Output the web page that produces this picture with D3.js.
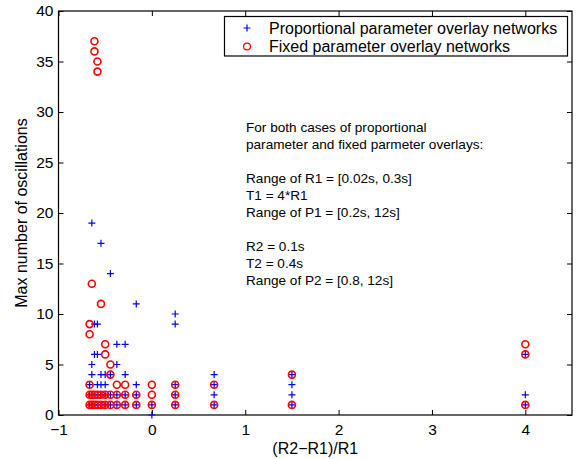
<!DOCTYPE html>
<html>
<head>
<meta charset="utf-8">
<script src="https://cdn.jsdelivr.net/npm/d3@7"></script>
<style>
  body { margin: 0; background: #fff; }
  svg { font-family: "Liberation Sans", Arial, Helvetica, sans-serif; }
</style>
</head>
<body>
<svg></svg>
<script>
const width = 581, height = 459;

// x values are (R2-R1)/R1, y values are max number of oscillations
const proportional = [
  [0, 0],
  [-0.667, 1], [-0.643, 1], [-0.615, 1], [-0.583, 1], [-0.545, 1], [-0.5, 1], [-0.444, 1],
  [-0.375, 1], [-0.286, 1], [-0.167, 1], [0, 1], [0.25, 1], [0.667, 1], [1.5, 1], [4, 1],
  [-0.667, 2], [-0.643, 2], [-0.615, 2], [-0.583, 2], [-0.545, 2], [-0.5, 2], [-0.444, 2],
  [-0.375, 2], [-0.286, 2], [-0.167, 2], [0.25, 2], [0.667, 2], [1.5, 2], [4, 2],
  [-0.667, 3], [-0.583, 3], [-0.545, 3], [-0.5, 3], [-0.167, 3], [0.25, 3], [0.667, 3], [1.5, 3],
  [-0.643, 4], [-0.545, 4], [-0.5, 4], [-0.444, 4], [-0.286, 4], [0.667, 4], [1.5, 4],
  [-0.643, 5], [-0.375, 5],
  [-0.615, 6], [-0.583, 6], [4, 6],
  [-0.375, 7], [-0.286, 7],
  [-0.615, 9], [-0.583, 9], [0.25, 9],
  [0.25, 10],
  [-0.167, 11],
  [-0.444, 14],
  [-0.545, 17],
  [-0.643, 19]
];

const fixed = [
  [-0.667, 1], [-0.643, 1], [-0.615, 1], [-0.583, 1], [-0.545, 1], [-0.5, 1], [-0.444, 1],
  [-0.375, 1], [-0.286, 1], [-0.167, 1], [0, 1], [0.25, 1], [0.667, 1], [1.5, 1], [4, 1],
  [-0.667, 2], [-0.643, 2], [-0.615, 2], [-0.583, 2], [-0.545, 2], [-0.5, 2], [-0.444, 2],
  [-0.375, 2], [-0.286, 2], [-0.167, 2], [0, 2], [0.25, 2],
  [-0.667, 3], [-0.375, 3], [-0.286, 3], [0, 3], [0.25, 3], [0.667, 3],
  [-0.444, 4], [1.5, 4],
  [-0.444, 5],
  [-0.5, 6], [4, 6],
  [-0.5, 7], [4, 7],
  [-0.667, 8],
  [-0.667, 9],
  [-0.545, 11],
  [-0.643, 13],
  [-0.583, 34], [-0.583, 35],
  [-0.615, 36], [-0.615, 37]
];

const xTicks = [-1, 0, 1, 2, 3, 4];
const yTicks = [0, 5, 10, 15, 20, 25, 30, 35, 40];
const legendLabels = ["Proportional parameter overlay networks", "Fixed parameter overlay networks"];
const noteLines = [
  "For both cases of proportional",
  "parameter and fixed parmeter overlays:",
  "",
  "Range of R1 = [0.02s, 0.3s]",
  "T1 = 4*R1",
  "Range of P1 = [0.2s, 12s]",
  "",
  "R2 = 0.1s",
  "T2 = 0.4s",
  "Range of P2 = [0.8, 12s]"
];

const svg = d3.select("svg").attr("width", width).attr("height", height);

const plotLeft = 58.5, plotRight = 572, plotTop = 11, plotBottom = 415;

const x = d3.scaleLinear().domain([-1, 4.5]).range([plotLeft, plotRight]);
const y = d3.scaleLinear().domain([0, 40]).range([plotBottom, plotTop]);
const fmt = d3.format("d");

// axes, ticks pointing inward like matlab
svg.append("g")
  .attr("transform", `translate(0,${plotBottom})`)
  .call(d3.axisBottom(x).tickValues(xTicks).tickFormat(fmt).tickSizeInner(-5).tickSizeOuter(0).tickPadding(9));
svg.append("g")
  .attr("transform", `translate(${plotLeft},0)`)
  .call(d3.axisLeft(y).tickValues(yTicks).tickFormat(fmt).tickSizeInner(-5).tickSizeOuter(0).tickPadding(5));
svg.append("g")
  .attr("transform", `translate(0,${plotTop})`)
  .call(d3.axisTop(x).tickValues(xTicks).tickSizeInner(-5).tickSizeOuter(0).tickFormat(""));
svg.append("g")
  .attr("transform", `translate(${plotRight},0)`)
  .call(d3.axisRight(y).tickValues(yTicks).tickSizeInner(-5).tickSizeOuter(0).tickFormat(""));

svg.selectAll(".domain").remove();
svg.selectAll(".tick line").attr("stroke", "#000");
svg.selectAll(".tick text").attr("font-size", 15.5).attr("fill", "#000")
  .attr("font-family", "Liberation Sans, Arial, sans-serif");

svg.append("rect")
  .attr("x", plotLeft).attr("y", plotTop)
  .attr("width", plotRight - plotLeft).attr("height", plotBottom - plotTop)
  .attr("fill", "none").attr("stroke", "#000").attr("stroke-width", 1.2);

// axis titles
svg.append("text")
  .attr("x", (plotLeft + plotRight) / 2).attr("y", 454)
  .attr("text-anchor", "middle").attr("font-size", 16)
  .text("(R2\u2212R1)/R1");

svg.append("text")
  .attr("transform", `translate(27,${(plotTop + plotBottom) / 2}) rotate(-90)`)
  .attr("text-anchor", "middle").attr("font-size", 16)
  .text("Max number of oscillations");

const plusPath = "M-3.5,0H3.5M0,-3.5V3.5";

// blue plus markers
svg.append("g")
  .selectAll("path")
  .data(proportional)
  .enter()
  .append("path")
  .attr("d", plusPath)
  .attr("transform", d => `translate(${x(d[0])},${y(d[1])})`)
  .attr("stroke", "#0000ff")
  .attr("stroke-width", 1.2)
  .attr("fill", "none");

// red circle markers
svg.append("g")
  .selectAll("circle")
  .data(fixed)
  .enter()
  .append("circle")
  .attr("cx", d => x(d[0]))
  .attr("cy", d => y(d[1]))
  .attr("r", 3.5)
  .attr("stroke", "#ff0000")
  .attr("stroke-width", 1.6)
  .attr("fill", "none");

// legend
const legend = svg.append("g");
legend.append("rect")
  .attr("x", 224.5).attr("y", 16.5)
  .attr("width", 343).attr("height", 39.5)
  .attr("fill", "#fff").attr("stroke", "#000").attr("stroke-width", 1.2);

legend.append("path")
  .attr("d", plusPath)
  .attr("transform", "translate(247,28)")
  .attr("stroke", "#0000ff").attr("stroke-width", 1.2);
legend.append("circle")
  .attr("cx", 247).attr("cy", 46.5).attr("r", 3.4)
  .attr("stroke", "#ff0000").attr("stroke-width", 1.2).attr("fill", "none");

legend.selectAll("text")
  .data(legendLabels)
  .enter()
  .append("text")
  .attr("x", 269)
  .attr("y", (d, i) => 28 + i * 18.5)
  .attr("dy", "0.36em")
  .attr("font-size", 16)
  .text(d => d);

// annotation block
svg.append("g")
  .selectAll("text")
  .data(noteLines)
  .enter()
  .append("text")
  .attr("x", 246)
  .attr("y", (d, i) => 127 + i * 17)
  .attr("dy", "0.36em")
  .attr("font-size", 13.6)
  .text(d => d);
</script>
</body>
</html>
